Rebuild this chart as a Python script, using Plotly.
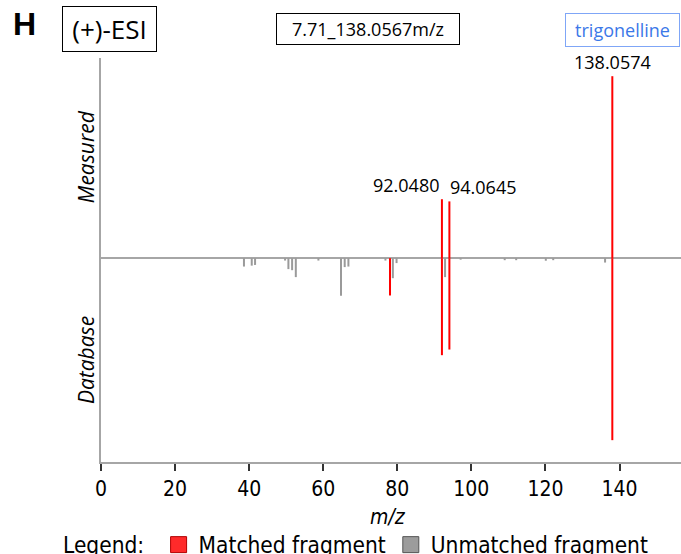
import plotly.graph_objects as go

# ---------------- data ----------------
measured_mz = [92.0480, 94.0645, 138.0574]
measured_int = [32.4, 31.2, 100.0]
measured_labels = ["92.0480", "94.0645", "138.0574"]

db_mz = [38.6, 40.7, 41.6, 49.7, 50.6, 51.6, 52.6, 58.7, 64.8, 65.8, 66.8,
         76.8, 78.034, 78.8, 79.8, 92.050, 92.9, 94.065, 97.1, 109.0, 112.1,
         120.1, 122.1, 136.1, 138.057]
db_int = [4.6, 4.1, 3.7, 1.3, 6.0, 6.6, 10.4, 1.3, 20.7, 4.9, 4.6,
          1.3, 20.5, 11.0, 2.7, 53.3, 10.4, 50.2, 0.8, 1.1, 1.1,
          1.4, 1.1, 2.4, 100.0]
db_matched = [False, False, False, False, False, False, False, False, False, False, False,
              False, True, False, False, True, False, True, False, False, False,
              False, False, False, True]

x_ticks = [0, 20, 40, 60, 80, 100, 120, 140]

RED = "#ff0000"
GRAY = "#9a9a9a"
AXIS_GRAY = "#a6a6a6"
TICK_FONT = "DejaVu Sans Condensed, DejaVu Sans, sans-serif"
LABEL_FONT = "Open Sans, Noto Sans, sans-serif"


def stems(xs, ys, sign):
    X, Y = [], []
    for x, y in zip(xs, ys):
        X += [x, x, None]
        Y += [0, sign * y, None]
    return X, Y


fig = go.Figure()

# database unmatched (gray)
gx, gy = stems([m for m, k in zip(db_mz, db_matched) if not k],
               [v for v, k in zip(db_int, db_matched) if not k], -1)
fig.add_trace(go.Scatter(x=gx, y=gy, mode="lines", line=dict(color=GRAY, width=2),
                         showlegend=False, hoverinfo="skip"))
# database matched (red)
rx, ry = stems([m for m, k in zip(db_mz, db_matched) if k],
               [v for v, k in zip(db_int, db_matched) if k], -1)
fig.add_trace(go.Scatter(x=rx, y=ry, mode="lines", line=dict(color=RED, width=2),
                         showlegend=False, hoverinfo="skip"))
# measured (all matched, red)
mx, my = stems(measured_mz, measured_int, 1)
fig.add_trace(go.Scatter(x=mx, y=my, mode="lines", line=dict(color=RED, width=2),
                         showlegend=False, hoverinfo="skip"))

# legend entries
fig.add_trace(go.Scatter(x=[None], y=[None], mode="markers", name="Matched fragment",
                         marker=dict(symbol="square", size=16, color="#ff2a2a",
                                     line=dict(color="#b00000", width=1))))
fig.add_trace(go.Scatter(x=[None], y=[None], mode="markers", name="Unmatched fragment",
                         marker=dict(symbol="square", size=16, color="#9c9c9c",
                                     line=dict(color="#555555", width=1))))

# peak labels
anchors = ["right", "left", "center"]
for mz, it, lab, anc in zip(measured_mz, measured_int, measured_labels, anchors):
    fig.add_annotation(x=mz, y=it, text=lab, showarrow=False, xanchor=anc,
                       yanchor="bottom", xshift=-1 if anc != "center" else 0, yshift=0,
                       font=dict(family=LABEL_FONT, size=18, color="#000000"))

# geometry helpers (pixel -> paper)
L, R, T, B = 101, 0, 58, 92
W, H = 681, 554
pw, ph = W - L - R, H - T - B


def pxx(x):
    return (x - L) / pw


def pxy(y):
    return (H - B - y) / ph


# panel letter
fig.add_annotation(xref="paper", yref="paper", x=pxx(24), y=pxy(24), text="<b>H</b>",
                   showarrow=False, xanchor="center", yanchor="middle",
                   font=dict(family="Liberation Sans, Arial, sans-serif", size=32, color="#000"))
# boxes
fig.add_annotation(xref="paper", yref="paper", x=pxx(109.7), y=pxy(29), text="(+)-ESI",
                   showarrow=False, xanchor="center", yanchor="middle",
                   width=93, height=44, borderpad=0, bordercolor="#000", borderwidth=1,
                   font=dict(family=LABEL_FONT, size=26, color="#000"))
fig.add_annotation(xref="paper", yref="paper", x=pxx(367.9), y=pxy(29.2),
                   text="7.71_138.0567m/z",
                   showarrow=False, xanchor="center", yanchor="middle",
                   width=182, height=30, borderpad=0, bordercolor="#000", borderwidth=1,
                   font=dict(family=LABEL_FONT, size=18, color="#000"))
fig.add_annotation(xref="paper", yref="paper", x=pxx(622.5), y=pxy(29.5),
                   text="trigonelline",
                   showarrow=False, xanchor="center", yanchor="middle",
                   width=113, height=32, borderpad=0, bordercolor="#7fa6f7", borderwidth=1,
                   font=dict(family=LABEL_FONT, size=18, color="#3b78e8"))

# side titles
fig.add_annotation(xref="paper", yref="y", x=pxx(86), y=55.5, text="<i>Measured</i>",
                   showarrow=False, textangle=-90, xanchor="center", yanchor="middle",
                   font=dict(family=LABEL_FONT, size=21, color="#000"))
fig.add_annotation(xref="paper", yref="y", x=pxx(86), y=-56, text="<i>Database</i>",
                   showarrow=False, textangle=-90, xanchor="center", yanchor="middle",
                   font=dict(family=LABEL_FONT, size=21, color="#000"))
# x title
fig.add_annotation(xref="paper", yref="paper", x=pxx(388), y=pxy(517), text="<i>m/z</i>",
                   showarrow=False, xanchor="center", yanchor="middle",
                   font=dict(family=TICK_FONT, size=21, color="#000"))

fig.update_layout(
    width=W, height=H,
    margin=dict(l=L, r=R, t=T, b=B, autoexpand=False),
    paper_bgcolor="white", plot_bgcolor="white",
    showlegend=True,
    legend=dict(orientation="h", x=pxx(61), y=pxy(545), xanchor="left", yanchor="middle",
                title=dict(text="Legend:&nbsp;", side="left",
                           font=dict(family=TICK_FONT, size=22.5, color="#000")),
                font=dict(family=TICK_FONT, size=22.5, color="#000"),
                bgcolor="rgba(0,0,0,0)", borderwidth=0),
    xaxis=dict(range=[0, 156.6], tickvals=x_ticks, ticktext=[str(t) for t in x_ticks],
               ticks="outside", ticklen=7, tickwidth=2, tickcolor="#333333",
               showline=True, linecolor=AXIS_GRAY, linewidth=2,
               showgrid=False, zeroline=False,
               tickfont=dict(family=TICK_FONT, size=21, color="#000")),
    yaxis=dict(range=[-112, 110], showticklabels=False, ticks="",
               showline=True, linecolor=AXIS_GRAY, linewidth=2,
               showgrid=False, zeroline=True, zerolinecolor=AXIS_GRAY, zerolinewidth=2),
)

fig.write_html("out.html")
